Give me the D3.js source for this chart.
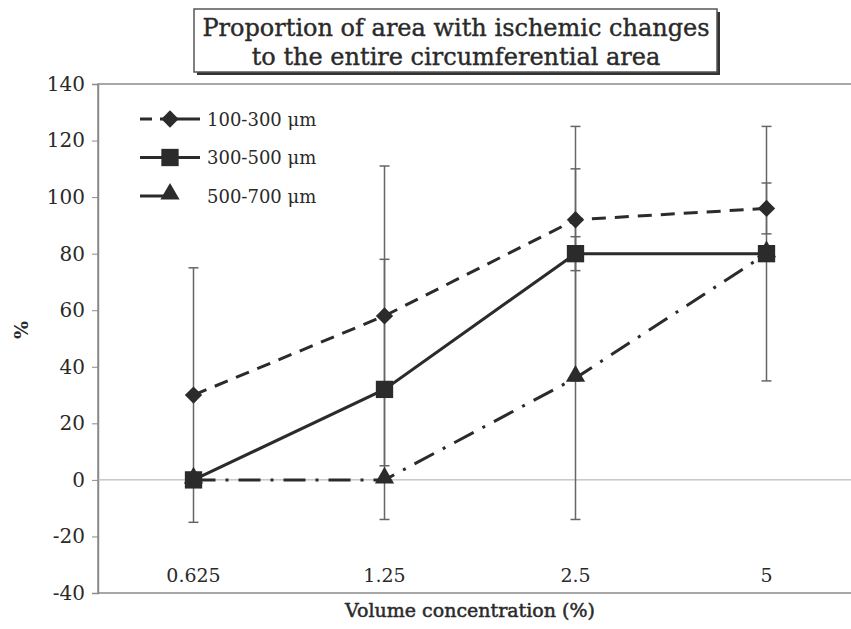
<!DOCTYPE html>
<html>
<head>
<meta charset="utf-8">
<script src="https://cdn.jsdelivr.net/npm/d3@7"></script>
<style>
  body { margin: 0; background: #fff; }
  svg { display: block; }
  text { font-family: "DejaVu Serif", serif; fill: #2a2a2a; }
</style>
</head>
<body>
<svg id="chart" width="851" height="629"></svg>
<script>
// Chart data
const categories = ['0.625', '1.25', '2.5', '5'];
const seriesNames = ['100-300 \u03bcm', '300-500 \u03bcm', '500-700 \u03bcm'];
const values100 = [30, 58, 92, 96];
const errors100 = [45, 53, 18, 9];
const values300 = [0, 32, 80, 80];
const errors300 = [0, 46, 45, 45];
const values500 = [0, 0, 36, 80];
const errors500 = [0, 0, 50, 0];
const yTicks = [-40, -20, 0, 20, 40, 60, 80, 100, 120, 140];
const titleLines = ['Proportion of area with ischemic changes', 'to the entire circumferential area'];

const svg = d3.select('#chart');
const ink = '#2b2b2b';

// scales
const x = d3.scaleBand().domain(categories).range([98, 862]);
const y = d3.scaleLinear().domain([-40, 140]).range([593, 84]);
const cx = (c) => x(c) + x.bandwidth() / 2;

// plot frame
svg.append('rect')
  .attr('x', x.range()[0]).attr('y', y(140))
  .attr('width', x.range()[1] - x.range()[0]).attr('height', y(-40) - y(140))
  .attr('fill', 'none').attr('stroke', '#8a8a8a').attr('stroke-width', 1.5);

// y axis
const yAxis = svg.append('g')
  .attr('transform', `translate(${x.range()[0]},0)`)
  .call(d3.axisLeft(y).tickValues(yTicks).tickSize(6).tickPadding(7)
    .tickFormat((d) => (d < 0 ? `-${Math.abs(d)}` : d)));
yAxis.select('.domain').attr('stroke', '#8a8a8a').attr('stroke-width', 1.5);
yAxis.selectAll('line').attr('stroke', '#8a8a8a');
yAxis.selectAll('text').style('font-size', '20px').attr('fill', '#2a2a2a');

// zero line (category axis)
svg.append('line')
  .attr('x1', x.range()[0]).attr('x2', x.range()[1])
  .attr('y1', y(0)).attr('y2', y(0))
  .attr('stroke', '#aaa').attr('stroke-width', 1);

// category labels at the bottom
svg.append('g').selectAll('text')
  .data(categories)
  .join('text')
  .attr('x', (d) => cx(d))
  .attr('y', 582)
  .attr('text-anchor', 'middle')
  .style('font-size', '19px')
  .text((d) => d);

// axis titles
svg.append('text')
  .attr('x', 470).attr('y', 617)
  .attr('text-anchor', 'middle')
  .style('font-size', '19px')
  .attr('stroke', '#2a2a2a').attr('stroke-width', 0.5)
  .text('Volume concentration (%)');

svg.append('text')
  .attr('transform', 'translate(28,330) rotate(-90)')
  .attr('text-anchor', 'middle')
  .style('font-size', '19px')
  .style('font-weight', 'bold')
  .text('%');

const diamond = d3.symbol().type(d3.symbolSquare).size(150);
const series = [
  { name: seriesNames[0], values: values100, errors: errors100, dash: '14,9', marker: diamond, rot: 45, dy: 0 },
  { name: seriesNames[1], values: values300, errors: errors300, dash: null, marker: d3.symbol().type(d3.symbolSquare).size(300), rot: 0, dy: 0 },
  { name: seriesNames[2], values: values500, errors: errors500, dash: '22,10,3,10', marker: d3.symbol().type(d3.symbolTriangle).size(160), rot: 0, dy: -2 },
];

// error bars
series.forEach((s) => {
  const g = svg.append('g');
  categories.forEach((c, i) => {
    if (!s.errors[i]) return;
    const top = y(s.values[i] + s.errors[i]);
    const bot = y(s.values[i] - s.errors[i]);
    g.append('line').attr('x1', cx(c)).attr('x2', cx(c)).attr('y1', top).attr('y2', bot)
      .attr('stroke', '#666').attr('stroke-width', 1.5);
    [top, bot].forEach((v) => {
      g.append('line').attr('x1', cx(c) - 5).attr('x2', cx(c) + 5).attr('y1', v).attr('y2', v)
        .attr('stroke', '#666').attr('stroke-width', 1.5);
    });
  });
});

// lines
const line = d3.line().x((d) => cx(d.c)).y((d) => y(d.v));
series.forEach((s) => {
  svg.append('path')
    .datum(categories.map((c, i) => ({ c, v: s.values[i] })))
    .attr('fill', 'none')
    .attr('stroke', ink)
    .attr('stroke-width', 3)
    .attr('stroke-dasharray', s.dash)
    .attr('d', line);
});

// markers
series.forEach((s) => {
  svg.append('g').selectAll('path')
    .data(categories.map((c, i) => ({ c, v: s.values[i] })))
    .join('path')
    .attr('transform', (d) => `translate(${cx(d.c)},${y(d.v) + s.dy}) rotate(${s.rot})`)
    .attr('d', s.marker)
    .attr('fill', ink);
});

// legend
const legend = svg.append('g');
series.forEach((s, i) => {
  const ly = 119 + i * 38.5;
  legend.append('line')
    .attr('x1', 140).attr('x2', 200).attr('y1', ly).attr('y2', ly)
    .attr('stroke', ink).attr('stroke-width', 3)
    .attr('stroke-dasharray', s.dash ? (i === 0 ? '12,8,40' : '24,8,3,40') : null);
  legend.append('path')
    .attr('transform', `translate(170,${ly + s.dy}) rotate(${s.rot})`)
    .attr('d', s.marker)
    .attr('fill', ink);
  legend.append('text')
    .attr('x', 207).attr('y', ly + 6.5)
    .style('font-size', '18px')
    .text(s.name);
});

// title box with shadow
svg.append('rect').attr('x', 197).attr('y', 12).attr('width', 523).attr('height', 63).attr('fill', '#333');
svg.append('rect').attr('x', 194).attr('y', 9).attr('width', 523).attr('height', 63)
  .attr('fill', '#fff').attr('stroke', '#555').attr('stroke-width', 1.5);
titleLines.forEach((t, i) => {
  svg.append('text')
    .attr('x', 456).attr('y', 36 + i * 29)
    .attr('text-anchor', 'middle')
    .style('font-size', '24px')
    .attr('stroke', '#2a2a2a').attr('stroke-width', 0.4)
    .text(t);
});
</script>
</body>
</html>
